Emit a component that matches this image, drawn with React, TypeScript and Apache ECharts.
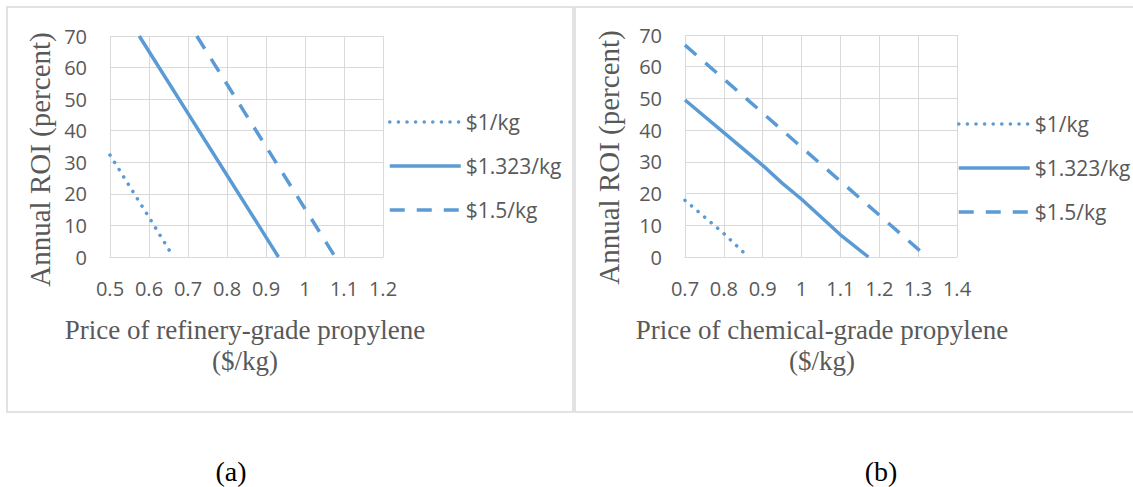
import React, { useEffect, useRef } from "react";
import * as echarts from "echarts";

// ---- Data ----
const seriesNames = ["$1/kg", "$1.323/kg", "$1.5/kg"];

// (a) refinery-grade propylene
const refXTicks = { min: 0.5, max: 1.2, interval: 0.1 };
const refPrice1 = [0.5, 0.6, 0.6625];
const refRoi1 = [32.3, 12.6, 0];
const refPrice1323 = [0.575, 0.6, 0.7, 0.8, 0.9, 0.932];
const refRoi1323 = [70, 65.1, 45.5, 25.9, 6.3, 0];
const refPrice15 = [0.7225, 0.8, 0.9, 1.0, 1.0775];
const refRoi15 = [70, 54.7, 35, 15.3, 0];

// (b) chemical-grade propylene
const chemXTicks = { min: 0.7, max: 1.4, interval: 0.1 };
const chemPrice1 = [0.7, 0.8, 0.863];
const chemRoi1 = [17.9, 7.4, 0];
const chemPrice1323 = [0.7, 0.8, 0.9, 0.95, 1.0, 1.1, 1.172];
const chemRoi1323 = [49.5, 39.2, 28.9, 23.3, 18.2, 7, 0];
const chemPrice15 = [0.7, 0.8, 0.9, 1.0, 1.1, 1.2, 1.323];
const chemRoi15 = [66.8, 56.1, 45.4, 34.6, 23.9, 13.2, 0];

const yTicks = { min: 0, max: 70, interval: 10 };

const yTitle = "Annual ROI (percent)";
const xTitleA = ["Price of refinery-grade propylene", "($/kg)"];
const xTitleB = ["Price of chemical-grade propylene", "($/kg)"];
const panelLabels = ["(a)", "(b)"];

const zip = (xs: number[], ys: number[]) => xs.map((x, i) => [x, ys[i]]);

const BLUE = "#5b9bd5";
const GRID = "#d9d9d9";
const TEXT = "#595959";
const SANS = "'Open Sans', sans-serif";
const SERIF = "'Liberation Serif', 'Times New Roman', serif";

const lineStyles = [
  { width: 3.5, type: [0.1, 8.5] as any, cap: "round" as const, color: BLUE },
  { width: 3.5, type: "solid" as any, cap: "butt" as const, color: BLUE },
  { width: 3.5, type: [15, 12] as any, cap: "butt" as const, color: BLUE },
];

export default function App() {
  const ref = useRef<HTMLDivElement>(null);

  useEffect(() => {
    if (!ref.current) return;
    const chart = echarts.init(ref.current, undefined, { renderer: "svg" });

    const makeX = (gridIndex: number, t: { min: number; max: number; interval: number }) => ({
      type: "value" as const,
      gridIndex,
      min: t.min,
      max: t.max,
      interval: t.interval,
      axisLine: { show: true, lineStyle: { color: GRID, width: 1 } },
      axisTick: { show: false },
      splitLine: { show: true, lineStyle: { color: GRID, width: 1 } },
      axisLabel: { color: TEXT, fontSize: 20, fontFamily: SANS, margin: 21 },
    });
    const makeY = (gridIndex: number) => ({
      type: "value" as const,
      gridIndex,
      min: yTicks.min,
      max: yTicks.max,
      interval: yTicks.interval,
      axisLine: { show: false },
      axisTick: { show: false },
      splitLine: { show: true, lineStyle: { color: GRID, width: 1 } },
      axisLabel: { color: TEXT, fontSize: 20, fontFamily: SANS, margin: 23 },
    });

    const sets = [
      [zip(refPrice1, refRoi1), zip(refPrice1323, refRoi1323), zip(refPrice15, refRoi15)],
      [zip(chemPrice1, chemRoi1), zip(chemPrice1323, chemRoi1323), zip(chemPrice15, chemRoi15)],
    ];

    const series: any[] = [];
    sets.forEach((set, gi) => {
      set.forEach((data, si) => {
        series.push({
          type: "line",
          name: seriesNames[si],
          xAxisIndex: gi,
          yAxisIndex: gi,
          data,
          symbol: "none",
          showSymbol: false,
          clip: true,
          lineStyle: lineStyles[si],
          itemStyle: { color: BLUE },
        });
      });
    });

    const legendCommon = {
      orient: "vertical" as const,
      padding: 0,
      itemWidth: 71,
      itemHeight: 14,
      itemGap: 22,
      selectedMode: false,
      data: seriesNames.map((name, i) => ({
        name,
        lineStyle: { ...lineStyles[i] },
      })),
      itemStyle: { opacity: 0, borderWidth: 0 },
      lineStyle: { width: 3.5 },
      textStyle: { color: TEXT, fontSize: 21, fontFamily: SANS, lineHeight: 22 },
    };

    const titleText = (x: number, y: number, text: string, size: number, color: string, rotation = 0) => ({
      type: "text",
      x,
      y,
      rotation,
      silent: true,
      style: {
        text,
        align: "center",
        verticalAlign: "middle",
        textAlign: "center",
        textVerticalAlign: "middle",
        font: `${size}px ${SERIF}`,
        fill: color,
      },
    });

    chart.setOption({
      animation: false,
      backgroundColor: "#ffffff",
      grid: [
        { left: 110, top: 36, width: 273, height: 221 },
        { left: 685, top: 35, width: 272, height: 222 },
      ],
      xAxis: [makeX(0, refXTicks), makeX(1, chemXTicks)],
      yAxis: [makeY(0), makeY(1)],
      legend: [
        { ...legendCommon, left: 388, top: 111 },
        { ...legendCommon, left: 957, top: 113 },
      ],
      series,
      graphic: [
        {
          type: "rect",
          silent: true,
          shape: { x: 7, y: 7, width: 566, height: 405 },
          style: { fill: "none", stroke: GRID, lineWidth: 1.5 },
        },
        {
          type: "rect",
          silent: true,
          shape: { x: 575, y: 7, width: 600, height: 405 },
          style: { fill: "none", stroke: GRID, lineWidth: 1.5 },
        },
        titleText(40, 159.5, yTitle, 29, TEXT, Math.PI / 2),
        titleText(609, 157.5, yTitle, 29, TEXT, Math.PI / 2),
        titleText(245, 330, xTitleA[0], 27, TEXT),
        titleText(245, 361, xTitleA[1], 27, TEXT),
        titleText(822, 330, xTitleB[0], 27, TEXT),
        titleText(822, 361, xTitleB[1], 27, TEXT),
        titleText(231, 471, panelLabels[0], 28, "#000000"),
        titleText(881, 471, panelLabels[1], 28, "#000000"),
      ],
    });

    return () => chart.dispose();
  }, []);

  return (
    <div
      ref={ref}
      style={{ position: "absolute", left: 0, top: 0, width: 1133, height: 487, background: "#fff" }}
    />
  );
}
